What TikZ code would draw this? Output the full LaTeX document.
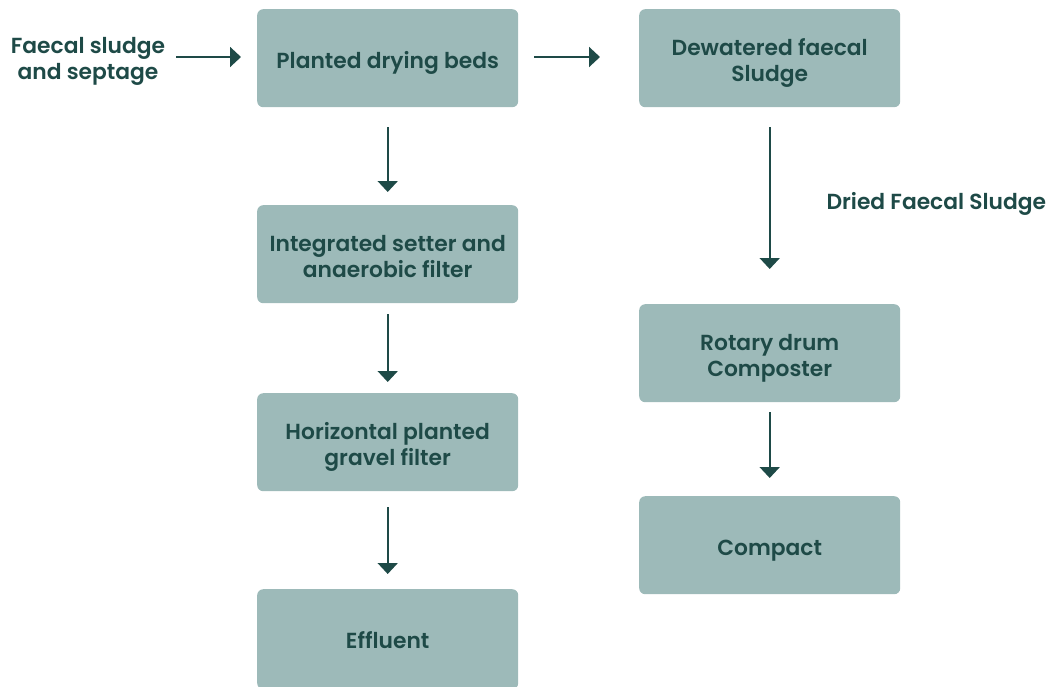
\documentclass[tikz,border=0pt]{standalone}
\usepackage{fontspec}
\setmainfont{Poppins}[BoldFont={Poppins SemiBold}]
\usetikzlibrary{arrows.meta}
\definecolor{boxfill}{HTML}{9DBAB9}
\definecolor{ink}{HTML}{1E4A47}
\newcommand{\shiftdn}[2]{\raisebox{-#1}[\height][\depth]{\begin{tabular}{@{}c@{}}#2\end{tabular}}}
\begin{document}
\begin{tikzpicture}[x=1pt,y=-1pt,
  flowbox/.style={fill=boxfill, rounded corners=6pt, minimum width=261pt, minimum height=98pt, inner sep=0pt, anchor=north west, text=ink, font=\fontsize{21.8}{26.5}\selectfont\bfseries},
  lbl/.style={text=ink, font=\fontsize{21.8}{26.5}\selectfont\bfseries},
  flow/.style={draw=ink, line width=2pt, -{Triangle[width=20pt,length=11pt]}}]
\useasboundingbox (0,0) rectangle (1054,686);
\node[flowbox] (pdb) at (257,9) {\shiftdn{5pt}{Planted drying beds}};
\node[flowbox] (isa) at (257,205) {\shiftdn{5pt}{Integrated setter and\\anaerobic filter}};
\node[flowbox] (hpg) at (257,393) {\shiftdn{5pt}{Horizontal planted\\gravel filter}};
\node[flowbox, minimum height=100pt] (eff) at (257,589) {\shiftdn{4pt}{Effluent}};
\node[flowbox] (dfs) at (639,9) {\shiftdn{5pt}{Dewatered faecal\\Sludge}};
\node[flowbox] (rdc) at (639,304) {\shiftdn{5pt}{Rotary drum\\Composter}};
\node[flowbox] (cmp) at (639,496) {\shiftdn{5pt}{Compact}};
\node[lbl] (in) at (88,61) {\shiftdn{0pt}{Faecal sludge\\and septage}};
\node[lbl, anchor=west] (dried) at (823,204) {Dried Faecal Sludge};
\coordinate (a1s) at (176,57); \coordinate (a1e) at (241,57);
\draw[flow] (a1s) -- (a1e);
\coordinate (a2s) at (534,57); \coordinate (a2e) at (600,57);
\draw[flow] (a2s) -- (a2e);
\draw[flow] ([yshift=-20pt]pdb.south) -- ([yshift=13pt]isa.north);
\draw[flow] ([yshift=-11pt]isa.south) -- ([yshift=11pt]hpg.north);
\draw[flow] ([yshift=-16pt]hpg.south) -- ([yshift=15pt]eff.north);
\draw[flow] ([yshift=-20pt]dfs.south) -- ([yshift=35pt]rdc.north);
\draw[flow] ([yshift=-10pt]rdc.south) -- ([yshift=18pt]cmp.north);
\end{tikzpicture}
\end{document}
